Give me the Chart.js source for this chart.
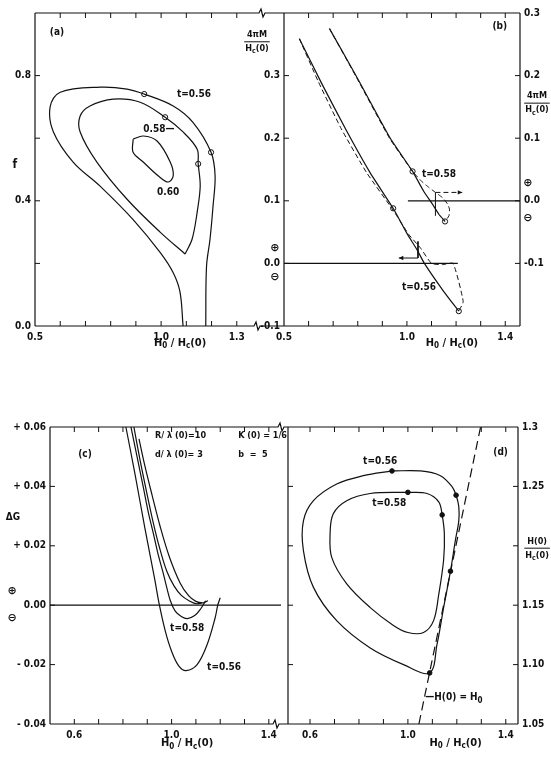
<!DOCTYPE html>
<html>
<head>
<meta charset="utf-8">
<script src="https://cdn.jsdelivr.net/npm/chart.js@4.4.0/dist/chart.umd.min.js"></script>
<style>
  body { margin: 0; background: #fff; width: 551px; height: 757px; position: relative; overflow: hidden; }
  canvas { position: absolute; left: 0; top: 0; }
</style>
</head>
<body>
<canvas id="panelA" width="551" height="757"></canvas>
<canvas id="panelB" width="551" height="757"></canvas>
<canvas id="panelC" width="551" height="757"></canvas>
<canvas id="panelD" width="551" height="757"></canvas>
<script>
// --- Data ---

// (a) f vs H0/Hc(0), lines of constant t
const aT56X = [1.087, 1.075, 1.048, 0.996, 0.889, 0.758, 0.652, 0.573, 0.56, 0.60, 0.758, 0.865, 0.933, 1.048, 1.127, 1.198, 1.214, 1.206, 1.194, 1.18, 1.177];
const aT56Y = [0, 0.108, 0.17, 0.235, 0.34, 0.447, 0.523, 0.62, 0.70, 0.747, 0.763, 0.757, 0.741, 0.703, 0.65, 0.555, 0.48, 0.384, 0.278, 0.19, 0];
const aT58X = [1.095, 0.996, 0.865, 0.746, 0.679, 0.679, 0.718, 0.81, 0.917, 1.016, 1.087, 1.143, 1.147, 1.155, 1.143, 1.123, 1.095];
const aT58Y = [0.23, 0.30, 0.405, 0.523, 0.62, 0.671, 0.703, 0.725, 0.715, 0.667, 0.62, 0.565, 0.518, 0.447, 0.364, 0.278, 0.23];
const aT60X = [0.889, 0.929, 0.984, 1.036, 1.048, 1.028, 0.988, 0.929, 0.889, 0.889];
const aT60Y = [0.597, 0.607, 0.591, 0.524, 0.48, 0.46, 0.48, 0.524, 0.555, 0.597];
const aMarkX = [0.933, 1.198, 1.016, 1.147];
const aMarkY = [0.741, 0.555, 0.667, 0.518];
const aXLabels = [0.5, 1.0, 1.3];
const aYLabels = [0.0, 0.4, 0.8];

// (b) 4piM/Hc(0) vs H0/Hc(0); t=0.56 on left axis, t=0.58 on right axis
const b56X = [0.5625, 0.65, 0.75, 0.85, 0.944, 1.0, 1.041, 1.071, 1.15, 1.211];
const b56Y = [0.359, 0.29, 0.215, 0.145, 0.088, 0.048, 0.022, 0.0, -0.045, -0.0763];
const b56DashX = [0.5625, 0.64, 0.733, 0.836, 0.944, 1.008, 1.055, 1.100, 1.145, 1.188, 1.229, 1.211];
const b56DashY = [0.359, 0.29, 0.215, 0.145, 0.085, 0.046, 0.0247, 0.0, -0.002, 0.0, -0.061, -0.0763];
const b58X = [0.685, 0.797, 0.933, 1.023, 1.07, 1.10, 1.13, 1.155];
const b58Y = [0.275, 0.197, 0.0995, 0.047, 0.014, -0.003, -0.0215, -0.033];
const b58DashX = [0.685, 0.795, 0.93, 1.023, 1.06, 1.089, 1.116, 1.145, 1.165, 1.173, 1.171, 1.155];
const b58DashY = [0.275, 0.197, 0.0995, 0.047, 0.031, 0.0215, 0.0134, 0.005, -0.005, -0.013, -0.024, -0.033];
const b56MarkX = [0.944, 1.211];
const b56MarkY = [0.088, -0.0763];
const b58MarkX = [1.023, 1.155];
const b58MarkY = [0.047, -0.033];
const b56ZeroX = [0.5, 1.207];
const b58ZeroX = [1.004, 1.46];
const b56ArrowX = [1.045, 1.045, 0.967];
const b56ArrowY = [0.035, 0.0086, 0.0086];
const b58BarX = [1.116, 1.116];
const b58BarY = [-0.024, 0.0134];
const b58ArrowX = [1.116, 1.225];
const b58ArrowY = [0.0134, 0.0134];
const bXLabels = [0.5, 1.0, 1.4];
const bYLabels = [-0.1, 0.0, 0.1, 0.2, 0.3];
const bY2Labels = [-0.1, 0.0, 0.1, 0.2, 0.3];

// (c) Delta G vs H0/Hc(0)
const c56X = [0.812, 0.85, 0.89, 0.93, 0.95, 0.975, 1.0, 1.03, 1.06, 1.105, 1.146, 1.179, 1.19, 1.2];
const c56Y = [0.06, 0.044, 0.026, 0.009, 0.0, -0.009, -0.0155, -0.0205, -0.022, -0.02, -0.0133, -0.0043, 0.0, 0.0025];
const c58X = [0.833, 0.858, 0.883, 0.905, 0.924, 0.945, 0.965, 0.98, 0.995, 1.015, 1.04, 1.065, 1.095, 1.12, 1.14];
const c58Y = [0.06, 0.05, 0.04, 0.031, 0.0245, 0.017, 0.011, 0.006, 0.0015, -0.002, -0.0038, -0.0045, -0.0035, -0.0012, 0.0015];
const c3X = [0.845, 0.87, 0.895, 0.924, 0.95, 0.98, 1.01, 1.04, 1.076, 1.10, 1.124];
const c3Y = [0.06, 0.049, 0.039, 0.028, 0.0195, 0.0115, 0.0065, 0.0033, 0.0013, 0.0005, 0.0007];
const c4X = [0.866, 0.89, 0.92, 0.953, 0.99, 1.035, 1.07, 1.10, 1.13, 1.15];
const c4Y = [0.056, 0.047, 0.037, 0.0265, 0.0165, 0.0075, 0.0032, 0.0013, 0.0008, 0.0015];
const cZeroX = [0.5, 1.45];
const cXLabels = [0.6, 1.0, 1.4];

// (d) H(0)/Hc(0) vs H0/Hc(0)
const d56X = [0.935, 1.051, 1.133, 1.181, 1.197, 1.208, 1.208, 1.194, 1.174, 1.146, 1.119, 1.089, 0.982, 0.846, 0.709, 0.614, 0.573, 0.573, 0.614, 0.709, 0.818, 0.935];
const d56Y = [1.263, 1.263, 1.259, 1.2496, 1.2426, 1.233, 1.221, 1.2046, 1.1786, 1.148, 1.117, 1.093, 1.1, 1.114, 1.137, 1.165, 1.196, 1.221, 1.238, 1.252, 1.259, 1.263];
const d58X = [1.0, 1.078, 1.126, 1.14, 1.149, 1.146, 1.126, 1.105, 1.064, 1.0, 0.941, 0.846, 0.75, 0.689, 0.682, 0.695, 0.75, 0.846, 1.0];
const d58Y = [1.245, 1.244, 1.237, 1.226, 1.21, 1.188, 1.159, 1.137, 1.127, 1.127, 1.133, 1.148, 1.168, 1.19, 1.21, 1.227, 1.238, 1.244, 1.245];
const d56MarkX = [0.935, 1.197, 1.174, 1.089];
const d56MarkY = [1.263, 1.2426, 1.1786, 1.093];
const d58MarkX = [1.0, 1.14];
const d58MarkY = [1.245, 1.226];
const dLineX = [1.045, 1.297];
const dLineY = [1.05, 1.30];
const dXLabels = [0.6, 1.0, 1.4];
const dYLabels = [1.05, 1.10, 1.15, 1.25, 1.30];

// --- Look ---
const INK = '#111';
const FONT = '"Liberation Sans Narrow", "DejaVu Sans Condensed", "Liberation Sans", sans-serif';
const SIGNS = '"DejaVu Sans", sans-serif';
const TICK = 5;
Chart.defaults.font.family = FONT;
Chart.defaults.font.size = 10;
Chart.defaults.font.weight = 'bold';
Chart.defaults.color = INK;

// plot rectangles of the four panels (pixels)
const AREA = {
  a: { left: 35, right: 262, top: 13, bottom: 326 },
  b: { left: 284, right: 520, top: 13, bottom: 326 },
  c: { left: 50, right: 281, top: 427, bottom: 724 },
  d: { left: 288, right: 518, top: 427, bottom: 724 }
};
const XH = 22; // height kept for x tick labels

const pts = (xs, ys) => xs.map((x, i) => ({ x, y: ys[i] }));
const r2 = v => Math.round(v * 100) / 100;

function curve(data, extra) {
  return Object.assign({ data, showLine: true, borderColor: INK, borderWidth: 1.2,
    pointRadius: 0, tension: 0.35, fill: false }, extra);
}
function marks(data, filled, extra) {
  return Object.assign({ data, showLine: false, pointStyle: 'circle', pointRadius: filled ? 2.3 : 2.6,
    pointBorderWidth: 1, pointBorderColor: INK, pointBackgroundColor: filled ? INK : '#fff' }, extra);
}

function xScale(min, max, shown) {
  return {
    type: 'linear', position: 'bottom', min, max,
    grid: { display: false, drawTicks: false }, border: { display: false },
    ticks: { stepSize: 0.1, includeBounds: false, autoSkip: false, maxRotation: 0, padding: 5,
      callback: v => shown.includes(r2(v)) ? r2(v).toFixed(1) : '' },
    afterFit: s => { s.height = XH; }
  };
}
function yScale(pos, min, max, step, width, fmt) {
  return {
    type: 'linear', position: pos, min, max,
    grid: { display: false, drawTicks: false }, border: { display: false },
    ticks: { stepSize: step, includeBounds: false, autoSkip: false, padding: 4, callback: fmt },
    afterFit: s => { s.width = width; }
  };
}

// --- text helpers: '_x' draws x as subscript ---
function richParts(str) {
  const parts = [];
  for (let i = 0; i < str.length; i++) {
    if (str[i] === '_' && i + 1 < str.length) { parts.push([str[i + 1], true]); i++; }
    else if (parts.length && !parts[parts.length - 1][1]) parts[parts.length - 1][0] += str[i];
    else parts.push([str[i], false]);
  }
  return parts;
}
function richWidth(c, str, size, fam) {
  let w = 0;
  richParts(str).forEach(p => {
    c.font = 'bold ' + (p[1] ? Math.round(size * 0.75) : size) + 'px ' + fam;
    w += c.measureText(p[0]).width;
  });
  return w;
}
function drawRich(c, str, x, y, align, size, fam) {
  const w = richWidth(c, str, size, fam);
  let cx = align === 'center' ? x - w / 2 : align === 'right' ? x - w : x;
  c.textAlign = 'left';
  c.textBaseline = 'middle';
  richParts(str).forEach(p => {
    c.font = 'bold ' + (p[1] ? Math.round(size * 0.75) : size) + 'px ' + fam;
    c.fillText(p[0], cx, p[1] ? y + size * 0.3 : y);
    cx += c.measureText(p[0]).width;
  });
}
function seg(c, x0, y0, x1, y1) {
  c.beginPath(); c.moveTo(x0, y0); c.lineTo(x1, y1); c.stroke();
}
// horizontal frame line with an axis-break mark at brk
function frameLine(c, x0, x1, y, brk) {
  c.beginPath();
  c.moveTo(x0, y);
  if (brk != null) {
    c.lineTo(brk - 3, y); c.lineTo(brk - 1, y - 4); c.lineTo(brk + 1, y + 4); c.lineTo(brk + 3, y);
  }
  c.lineTo(x1, y);
  c.stroke();
}

// frame, inward ticks, arrowheads and labels for one panel
function decor(cfg) {
  return {
    id: 'decor',
    afterDatasetsDraw(chart) {
      const c = chart.ctx, a = chart.chartArea, sx = chart.scales.x;
      c.save();
      c.strokeStyle = INK; c.fillStyle = INK; c.lineWidth = 1.2; c.setLineDash([]);

      const ext = cfg.joinTo || a.right;
      frameLine(c, a.left, ext, a.top, cfg.joinTo ? a.right : null);
      frameLine(c, a.left, ext, a.bottom, cfg.joinTo ? a.right - 5 : null);
      seg(c, a.left, a.top, a.left, a.bottom);
      if (!cfg.joinTo) seg(c, a.right, a.top, a.right, a.bottom);

      c.lineWidth = 1;
      sx.ticks.forEach(t => {
        const px = sx.getPixelForValue(t.value);
        if (px <= a.left + 1 || px >= a.right - 1) return;
        seg(c, px, a.top, px, a.top + TICK);
        seg(c, px, a.bottom, px, a.bottom - TICK);
      });
      cfg.yTicks.forEach(([id, side]) => {
        const s = chart.scales[id];
        s.ticks.forEach(t => {
          const py = s.getPixelForValue(t.value);
          if (py <= a.top + 1 || py >= a.bottom - 1) return;
          if (side === 'left') seg(c, a.left, py, a.left + TICK, py);
          else seg(c, a.right, py, a.right - TICK, py);
        });
      });

      // arrowheads at the end of datasets flagged with arrow
      chart.data.datasets.forEach((ds, i) => {
        if (!ds.arrow) return;
        const el = chart.getDatasetMeta(i).data;
        const p = el[el.length - 2], q = el[el.length - 1];
        const ang = Math.atan2(q.y - p.y, q.x - p.x);
        c.beginPath();
        c.moveTo(q.x, q.y);
        c.lineTo(q.x - 5 * Math.cos(ang - 0.45), q.y - 5 * Math.sin(ang - 0.45));
        c.lineTo(q.x - 5 * Math.cos(ang + 0.45), q.y - 5 * Math.sin(ang + 0.45));
        c.closePath();
        c.fill();
      });

      (cfg.texts || []).forEach(t => {
        const px = sx.getPixelForValue(t.x);
        const py = chart.scales[t.ax || 'y'].getPixelForValue(t.y);
        drawRich(c, t.t, px, py, t.align || 'left', t.size || 10, t.fam || FONT);
      });

      (cfg.fracs || []).forEach(f => {
        const px = sx.getPixelForValue(f.x);
        const py = chart.scales[f.ax || 'y'].getPixelForValue(f.y);
        const w = Math.max(richWidth(c, f.num, 9, FONT), richWidth(c, f.den, 9, FONT)) + 2;
        c.lineWidth = 1;
        seg(c, px - w / 2, py, px + w / 2, py);
        drawRich(c, f.num, px, py - 7, 'center', 9, FONT);
        drawRich(c, f.den, px, py + 7, 'center', 9, FONT);
      });
      c.restore();
    }
  };
}

function makePanel(id, area, wl, wr, scales, datasets, cfg) {
  return new Chart(document.getElementById(id), {
    type: 'scatter',
    data: { datasets },
    options: {
      responsive: false,
      animation: false,
      events: [],
      layout: { padding: {
        left: area.left - wl, right: 551 - area.right - wr,
        top: area.top, bottom: 757 - area.bottom - XH } },
      plugins: { legend: { display: false }, tooltip: { enabled: false } },
      scales
    },
    plugins: [decor(cfg)]
  });
}

const fmt1 = shown => v => shown.includes(r2(v)) ? r2(v).toFixed(1) : '';

// Panel (a)
makePanel('panelA', AREA.a, 30, 0, {
  x: xScale(0.5, 1.4, aXLabels),
  y: yScale('left', 0, 1.0, 0.2, 30, fmt1(aYLabels))
}, [
  curve(pts(aT56X, aT56Y)),
  curve(pts(aT58X, aT58Y)),
  curve(pts(aT60X, aT60Y)),
  marks(pts(aMarkX, aMarkY), false)
], {
  joinTo: AREA.b.left,
  yTicks: [['y', 'left']],
  texts: [
    { t: '(a)', x: 0.587, y: 0.938, align: 'center' },
    { t: 't=0.56', x: 1.063, y: 0.739 },
    { t: '0.58—', x: 0.929, y: 0.627 },
    { t: '0.60', x: 0.984, y: 0.426 },
    { t: 'f', x: 0.42, y: 0.515, align: 'center', size: 12 },
    { t: 'H_0 / H_c(0)', x: 1.075, y: -0.054, align: 'center', size: 11 }
  ]
});

// Panel (b)
makePanel('panelB', AREA.b, 28, 30, {
  x: xScale(0.5, 1.46, bXLabels),
  y: yScale('left', -0.1, 0.4, 0.1, 28, fmt1(bYLabels)),
  y2: yScale('right', -0.2, 0.3, 0.1, 30, fmt1(bY2Labels))
}, [
  curve(pts(b56X, b56Y), { yAxisID: 'y', tension: 0.15 }),
  curve(pts(b56DashX, b56DashY), { yAxisID: 'y', tension: 0.15, borderDash: [5, 3], borderWidth: 1 }),
  curve(pts(b58X, b58Y), { yAxisID: 'y2', tension: 0.15 }),
  curve(pts(b58DashX, b58DashY), { yAxisID: 'y2', tension: 0.15, borderDash: [5, 3], borderWidth: 1 }),
  curve(pts(b56ZeroX, [0, 0]), { yAxisID: 'y', tension: 0 }),
  curve(pts(b58ZeroX, [0, 0]), { yAxisID: 'y2', tension: 0 }),
  curve(pts(b56ArrowX, b56ArrowY), { yAxisID: 'y', tension: 0, borderWidth: 1, arrow: true }),
  curve(pts(b58BarX, b58BarY), { yAxisID: 'y2', tension: 0, borderWidth: 1 }),
  curve(pts(b58ArrowX, b58ArrowY), { yAxisID: 'y2', tension: 0, borderWidth: 1, borderDash: [5, 3], arrow: true }),
  marks(pts(b56MarkX, b56MarkY), false, { yAxisID: 'y' }),
  marks(pts(b58MarkX, b58MarkY), false, { yAxisID: 'y2' })
], {
  yTicks: [['y', 'left'], ['y2', 'right']],
  texts: [
    { t: '(b)', x: 1.378, y: 0.378, align: 'center' },
    { t: 't=0.58', x: 1.061, y: 0.0416, ax: 'y2' },
    { t: 't=0.56', x: 0.98, y: -0.0376 },
    { t: '⊕', x: 1.492, y: 0.0288, ax: 'y2', align: 'center', size: 11, fam: SIGNS },
    { t: '⊖', x: 1.492, y: -0.0272, ax: 'y2', align: 'center', size: 11, fam: SIGNS },
    { t: '⊕', x: 0.463, y: 0.0248, align: 'center', size: 11, fam: SIGNS },
    { t: '⊖', x: 0.463, y: -0.0216, align: 'center', size: 11, fam: SIGNS },
    { t: 'H_0 / H_c(0)', x: 1.183, y: -0.127, align: 'center', size: 11 }
  ],
  fracs: [
    { num: '4πM', den: 'H_c(0)', x: 0.39, y: 0.354 },
    { num: '4πM', den: 'H_c(0)', x: 1.529, y: 0.156, ax: 'y2' }
  ]
});

// Panel (c)
makePanel('panelC', AREA.c, 46, 0, {
  x: xScale(0.5, 1.45, cXLabels),
  y: yScale('left', -0.04, 0.06, 0.02, 46, v => {
    const r = r2(v);
    return r > 0 ? '+ ' + r.toFixed(2) : r < 0 ? '- ' + Math.abs(r).toFixed(2) : '0.00';
  })
}, [
  curve(pts(c56X, c56Y)),
  curve(pts(c58X, c58Y)),
  curve(pts(c3X, c3Y)),
  curve(pts(c4X, c4Y)),
  curve(pts(cZeroX, [0, 0]), { tension: 0 })
], {
  joinTo: AREA.d.left,
  yTicks: [['y', 'left']],
  texts: [
    { t: '(c)', x: 0.644, y: 0.0507, align: 'center' },
    { t: 'R/ λ (0)=10', x: 0.932, y: 0.057, size: 9 },
    { t: 'K (0) = 1/6', x: 1.274, y: 0.057, size: 9 },
    { t: 'd/ λ (0)= 3', x: 0.932, y: 0.0507, size: 9 },
    { t: 'b  =  5', x: 1.274, y: 0.0507, size: 9 },
    { t: 'ΔG', x: 0.348, y: 0.0297, align: 'center' },
    { t: '⊕', x: 0.344, y: 0.0047, align: 'center', size: 11, fam: SIGNS },
    { t: '⊖', x: 0.344, y: -0.0043, align: 'center', size: 11, fam: SIGNS },
    { t: 't=0.58', x: 0.994, y: -0.0077 },
    { t: 't=0.56', x: 1.146, y: -0.021 },
    { t: 'H_0 / H_c(0)', x: 1.064, y: -0.0465, align: 'center', size: 11 }
  ]
});

// Panel (d)
makePanel('panelD', AREA.d, 0, 32, {
  x: xScale(0.51, 1.45, dXLabels),
  y: yScale('right', 1.05, 1.3, 0.05, 32, v => {
    const r = r2(v);
    if (!dYLabels.includes(r)) return '';
    return r === 1.3 ? '1.3' : r.toFixed(2);
  })
}, [
  curve(pts(d56X, d56Y)),
  curve(pts(d58X, d58Y)),
  curve(pts(dLineX, dLineY), { tension: 0, borderDash: [9, 5] }),
  marks(pts(d56MarkX, d56MarkY), true),
  marks(pts(d58MarkX, d58MarkY), true)
], {
  yTicks: [['y', 'left'], ['y', 'right']],
  texts: [
    { t: '(d)', x: 1.379, y: 1.279, align: 'center' },
    { t: 't=0.56', x: 0.817, y: 1.271 },
    { t: 't=0.58', x: 0.854, y: 1.2355 },
    { t: '—H(0) = H_0', x: 1.071, y: 1.072 },
    { t: 'H_0 / H_c(0)', x: 1.195, y: 1.034, align: 'center', size: 11 }
  ],
  fracs: [
    { num: 'H(0)', den: 'H_c(0)', x: 1.528, y: 1.198 }
  ]
});
</script>
</body>
</html>
